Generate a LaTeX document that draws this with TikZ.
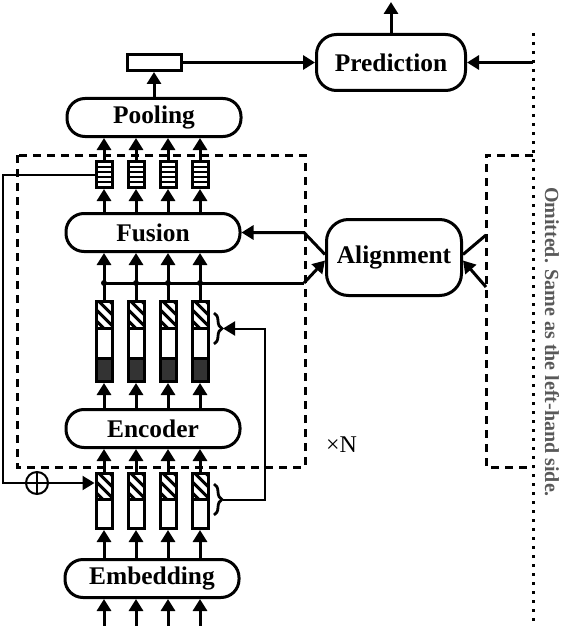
\documentclass[tikz,border=0pt]{standalone}
\usepackage{fontspec}
\setmainfont{Liberation Serif}
\usetikzlibrary{arrows.meta,positioning,shapes.misc,decorations.pathreplacing}

\begin{document}
\begin{tikzpicture}[
  x=0.5pt, y=-0.5pt,
  >={Triangle[length=6pt,width=7pt]},
  block/.style={draw, line width=1.5pt, rounded corners=9pt, inner sep=0pt,
    font=\fontsize{12.7}{15}\selectfont\bfseries},
  layer/.style={block, minimum width=87pt, minimum height=19pt},
  cell/.style={draw, line width=1.5pt, minimum width=8pt, inner sep=0pt},
  flow/.style={->, line width=1.5pt},
  fb/.style={line width=1pt},
  frame/.style={line width=1.5pt, dash pattern=on 4pt off 3pt},
  dotline/.style={line width=1.5pt, dash pattern=on 1.5pt off 3pt},
  hatch/.style={line width=1.5pt},
  curly/.style={line width=1.4pt, decorate, decoration={brace, amplitude=4pt}}
]
\useasboundingbox (0,0) rectangle (562,626);

% main blocks
\node[layer] (emb) at (152,578.5) {Embedding};
\node[layer] (enc) at (153,428.5) {Encoder};
\node[layer] (fus) at (153,232.5) {Fusion};
\node[layer] (pool) at (154,117.5) {Pooling};
\node[cell, minimum width=27pt, minimum height=8pt] (vec) at (154,62.5) {};
\node[block, rounded corners=10pt, minimum width=74.5pt, minimum height=28pt] (pred) at (391,62.5) {Prediction};
\node[block, rounded corners=11pt, minimum width=67.5pt, minimum height=38pt] (align) at (394,257.5) {Alignment};

% token columns
\foreach \i/\x in {1/104,2/136,3/168,4/200}{
  % hatched and dark parts
  \begin{scope}
    \clip (\x-8,473.5) rectangle (\x+8,499);
    \foreach \k in {-30,-19,...,20} \draw[hatch] (\x-8+\k,473.5) -- ++(30,30);
  \end{scope}
  \begin{scope}
    \clip (\x-8,301.5) rectangle (\x+8,328);
    \foreach \k in {-30,-19,...,20} \draw[hatch] (\x-8+\k,301.5) -- ++(30,30);
  \end{scope}
  \fill[black!80] (\x-8,358) rectangle (\x+8,381.5);
  % cells
  \node[cell, minimum height=27.5pt] (lo\i) at (\x,501) {};
  \node[cell, minimum height=40pt] (mid\i) at (\x,341.5) {};
  \node[cell, minimum height=13pt] (st\i) at (\x,174.5) {};
  \draw[line width=1.5pt] (\x-8,499) -- (\x+8,499);
  \draw[line width=1.5pt] (\x-8,328) -- (\x+8,328) (\x-8,358) -- (\x+8,358);
  \foreach \r in {1,...,4} \draw[fb] (\x-8,161.5+5.2*\r) -- (\x+8,161.5+5.2*\r);
  % arrows up the column
  \coordinate (in\i) at (\x,626);
  \draw[flow] (in\i) -- (in\i |- emb.south);
  \draw[flow] (lo\i |- emb.north) -- (lo\i.south);
  \draw[flow] (lo\i.north) -- (lo\i |- enc.south);
  \draw[flow] (mid\i |- enc.north) -- (mid\i.south);
  \draw[flow] (mid\i.north) -- (mid\i |- fus.south);
  \draw[flow] (st\i |- fus.north) -- (st\i.south);
  \draw[flow] (st\i.north) -- (st\i |- pool.south);
  \fill (\x,283) circle (1.5pt);
}

% alignment links
\coordinate (jx) at (304,0);
\coordinate (jl) at (304,283);
\coordinate (jr1) at (486,235);
\coordinate (jr2) at (486,287);
\draw[line width=1.5pt] (mid1 |- jl) -- (jl);
\draw[flow] (jl) -- ([yshift=-1.5pt]align.west);
\draw[flow] ([yshift=1.5pt]align.west) -- (fus.east -| jx) -- (fus.east);
\draw[line width=1.5pt] ([yshift=1.5pt]align.east) -- (jr1);
\draw[flow] (jr2) -- ([yshift=-1.5pt]align.east);

% prediction
\coordinate (dtop) at (533,33);
\coordinate (dbot) at (533,626);
\coordinate (out) at (391,2);
\draw[flow] (pool.north -| vec) -- (vec.south);
\draw[flow] (vec.east) -- (pred.west);
\draw[flow] (pred.east -| dtop) -- (pred.east);
\draw[flow] (pred.north) -- (out);

% frames
\draw[frame] (17,155) rectangle (305,467);
\draw[frame] (533,155) -- (486,155) -- (486,467) -- (533,467);
\draw[dotline] (dtop) -- (dbot);

% feedback
\node[draw, circle, fb, minimum size=11pt, inner sep=0pt,
  path picture={\draw[fb] (path picture bounding box.north) -- (path picture bounding box.south)
    (path picture bounding box.west) -- (path picture bounding box.east);}] (sum) at (37,483) {};
\coordinate (fbx) at (3,0);
\draw[fb] (st1.west) -- (st1.west -| fbx) |- (sum.west);
\draw[fb, ->] (sum.east) -- (sum -| lo1.west);

% braces
\draw[curly] (214,313) -- (214,344);
\draw[curly] (214,484) -- (214,515);
\coordinate (bu) at (223,328.5);
\coordinate (bl) at (223,499.5);
\coordinate (bx) at (265,0);
\draw[fb, ->] (bl) -- (bl -| bx) |- (bu);

% labels
\node[font=\fontsize{12}{14}\selectfont] (rep) at (341.5,445) {×N};
\node[rotate=-90, text=black!65, font=\fontsize{10}{12}\selectfont\bfseries] (omit) at (552,342) {Omitted. Same as the left-hand side.};
\end{tikzpicture}
\end{document}
